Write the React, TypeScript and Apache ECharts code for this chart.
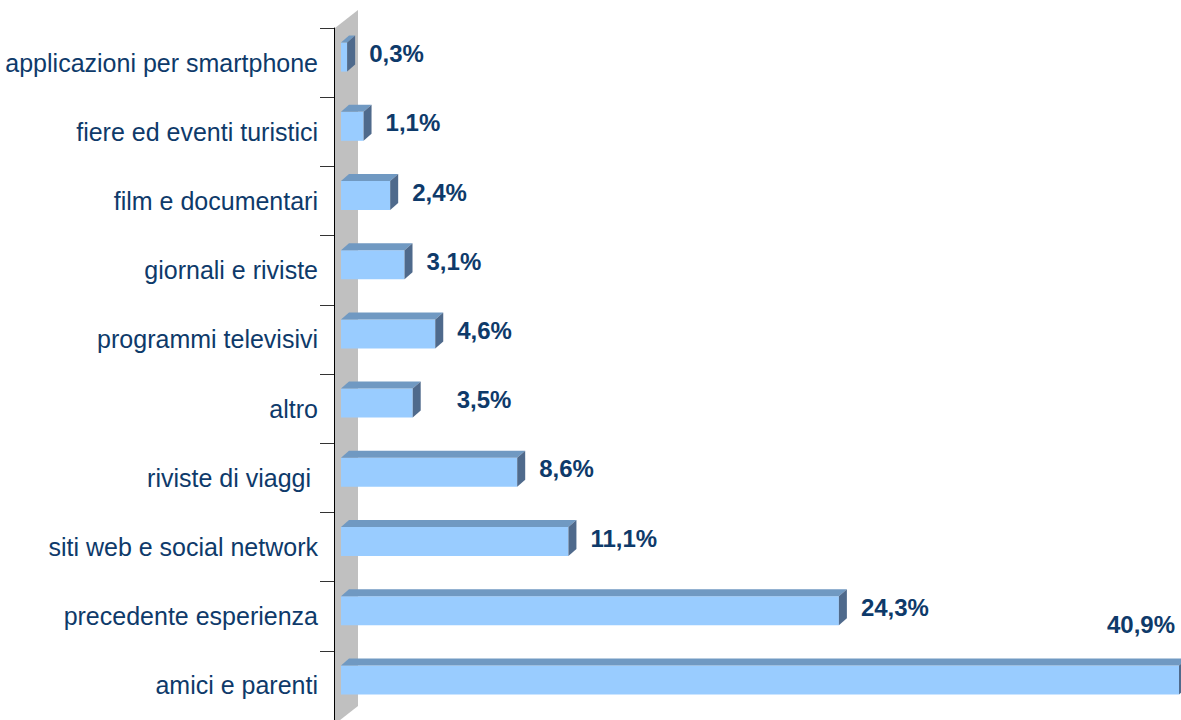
import React, { useEffect, useRef } from "react";
import * as echarts from "echarts";

const categories: string[] = [
  "applicazioni per smartphone",
  "fiere ed eventi turistici",
  "film e documentari",
  "giornali e riviste",
  "programmi televisivi",
  "altro",
  "riviste di viaggi ",
  "siti web e social network",
  "precedente esperienza",
  "amici e parenti",
];

const values: number[] = [0.3, 1.1, 2.4, 3.1, 4.6, 3.5, 8.6, 11.1, 24.3, 40.9];

const TEXT_COLOR = "#0e3a6a";
const FONT = "'Liberation Sans', Arial, Helvetica, sans-serif";
const FRONT = "#99ccff";
const TOP = "#7099c2";
const SIDE = "#4f6a8c";
const labelNudge: Record<string, number> = { altro: 22 };

const fmt = (v: number) => v.toFixed(1).replace(".", ",") + "%";

export default function App() {
  const ref = useRef<HTMLDivElement>(null);

  useEffect(() => {
    if (!ref.current) return;
    const chart = echarts.init(ref.current, undefined, { renderer: "svg" });
    const DX = 8;
    const DY = 7;
    const SHIFT = 7;

    const option: any = {
      animation: false,
      backgroundColor: "#ffffff",
      grid: { left: 334, top: 28, width: 838, height: 697, containLabel: false },
      xAxis: {
        type: "value",
        min: 0,
        max: 40.9,
        show: false,
        splitLine: { show: false },
      },
      yAxis: {
        type: "category",
        inverse: true,
        data: categories,
        axisLine: { show: true, lineStyle: { color: "#000000", width: 1 } },
        axisTick: { show: true, length: 14, lineStyle: { color: "#333333", width: 1 } },
        axisLabel: {
          fontSize: 25,
          fontFamily: FONT,
          color: TEXT_COLOR,
          margin: 16,
        },
        splitLine: { show: false },
      },
      graphic: [
        {
          type: "polygon",
          z: -10,
          silent: true,
          shape: {
            points: [
              [335, 28],
              [358, 10],
              [358, 706],
              [335, 724],
            ],
          },
          style: { fill: "#c0c0c0" },
        },
      ],
      series: [
        {
          type: "custom",
          encode: { x: 0, y: 1 },
          data: values.map((v, i) => [v, i]),
          z: 5,
          renderItem: (params: any, api: any) => {
            const v = api.value(0);
            const idx = api.value(1);
            const p0 = api.coord([0, idx]);
            const p1 = api.coord([v, idx]);
            const cy = p0[1];
            const x0 = p0[0] + SHIFT;
            const x1 = p1[0] + SHIFT;
            const yTop = cy - 20;
            const yBot = cy + 9;
            const children: any[] = [
              {
                type: "rect",
                shape: { x: x0, y: yTop, width: x1 - x0, height: yBot - yTop },
                style: { fill: FRONT },
              },
              {
                type: "polygon",
                shape: {
                  points: [
                    [x0, yTop],
                    [x0 + DX, yTop - DY],
                    [x1 + DX, yTop - DY],
                    [x1, yTop],
                  ],
                },
                style: { fill: TOP },
              },
              {
                type: "polygon",
                shape: {
                  points: [
                    [x1, yTop],
                    [x1 + DX, yTop - DY],
                    [x1 + DX, yBot - DY],
                    [x1, yBot],
                  ],
                },
                style: { fill: SIDE },
              },
            ];
            const name = categories[idx];
            const text = fmt(v);
            const width = api.getWidth();
            const lx = x1 + DX + 14 + (labelNudge[name] || 0);
            if (lx + 80 > width) {
              children.push({
                type: "text",
                style: {
                  x: width - 6,
                  y: cy - 61,
                  text,
                  fill: TEXT_COLOR,
                  font: `bold 24px ${FONT}`,
                  align: "right",
                  verticalAlign: "middle",
                },
              });
            } else {
              children.push({
                type: "text",
                style: {
                  x: lx,
                  y: cy - 9,
                  text,
                  fill: TEXT_COLOR,
                  font: `bold 24px ${FONT}`,
                  align: "left",
                  verticalAlign: "middle",
                },
              });
            }
            return { type: "group", children };
          },
        },
      ],
    };

    chart.setOption(option);
    return () => chart.dispose();
  }, []);

  return (
    <div
      ref={ref}
      style={{ position: "absolute", left: 0, top: 0, width: 1181, height: 720 }}
    />
  );
}
